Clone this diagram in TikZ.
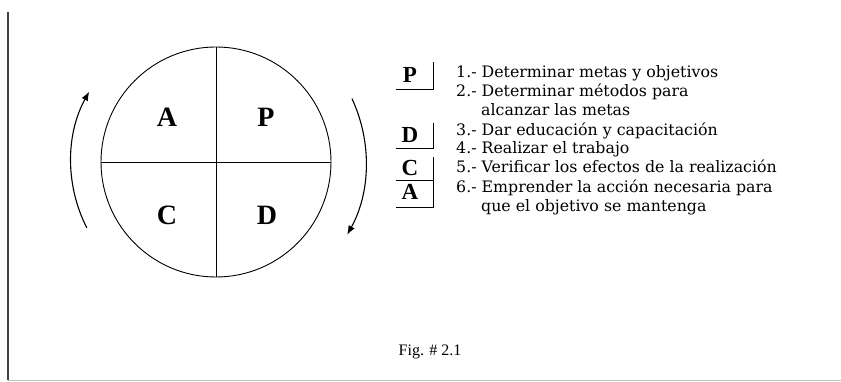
\documentclass[tikz,border=0pt]{standalone}
\usepackage{fontspec}
\setmainfont{Liberation Serif}
\newfontfamily\listfont{DejaVu Serif}
\usepackage{tikz}
\usetikzlibrary{positioning, arrows.meta, calc}

\begin{document}
\begin{tikzpicture}[
    x=1pt, y=1pt,
    quad/.style={font=\fontsize{28}{28}\selectfont\bfseries, inner sep=0pt},
    tag/.style={font=\fontsize{23}{23}\selectfont\bfseries, inner sep=0pt},
    item/.style={anchor=base west, align=left, inner sep=0pt,
                 font=\listfont\fontsize{15.8}{19}\selectfont},
    turn/.style={line width=1.1pt, -{Latex[length=9pt, width=7pt]}},
    >=stealth
]
\useasboundingbox (0,0) rectangle (841,382);

% frame
\draw[line width=1.5pt, black!75] (8,370) -- (8,2);
\draw[line width=0.8pt, black!25] (8,2) -- (841,2);

% PDCA wheel
\node[circle, draw, line width=0.9pt, minimum size=230pt, inner sep=0pt] (wheel) at (216,220) {};
\draw[line width=0.8pt] (wheel.north) -- (wheel.south);
\draw[line width=0.8pt] (wheel.west) -- (wheel.east);
\node[quad] (qA) at (167,265) {A};
\node[quad] (qP) at (266,265) {P};
\node[quad] (qC) at (167,167) {C};
\node[quad] (qD) at (267,167) {D};

\draw[turn] ($(wheel.center)+(207:145)$) arc[start angle=207, end angle=151, radius=145];
\draw[turn] ($(wheel.center)+(25:150)$) arc[start angle=25, end angle=-29, radius=150];

% letter tags
\node[tag] (tP) at (410,307) {P};
\draw[line width=0.8pt] (396,293) -| (433,320);
\node[tag] (tD) at (410,247) {D};
\draw[line width=0.8pt] (396,234) -| (433,259);
\node[tag] (tC) at (410,214) {C};
\draw[line width=0.8pt] (396,202) -| (433,225);
\node[tag] (tA) at (410,190) {A};
\draw[line width=0.8pt] (396,175) -| (433,201);

% steps
\node[item] (s1) at (456,304) {1.- Determinar metas y objetivos};
\node[item] (s2) at (456,266) {2.- Determinar métodos para\\\hspace*{25pt}alcanzar las metas};
\node[item] (s3) at (456,246) {3.- Dar educación y capacitación};
\node[item] (s4) at (456,228) {4.- Realizar el trabajo};
\node[item] (s5) at (456,209) {5.- Verificar los efectos de la realización};
\node[item] (s6) at (456,170) {6.- Emprender la acción necesaria para\\\hspace*{25pt}que el objetivo se mantenga};

\node[font=\fontsize{16}{16}\selectfont] (fig) at (430,30) {Fig. \# 2.1};
\end{tikzpicture}
\end{document}
